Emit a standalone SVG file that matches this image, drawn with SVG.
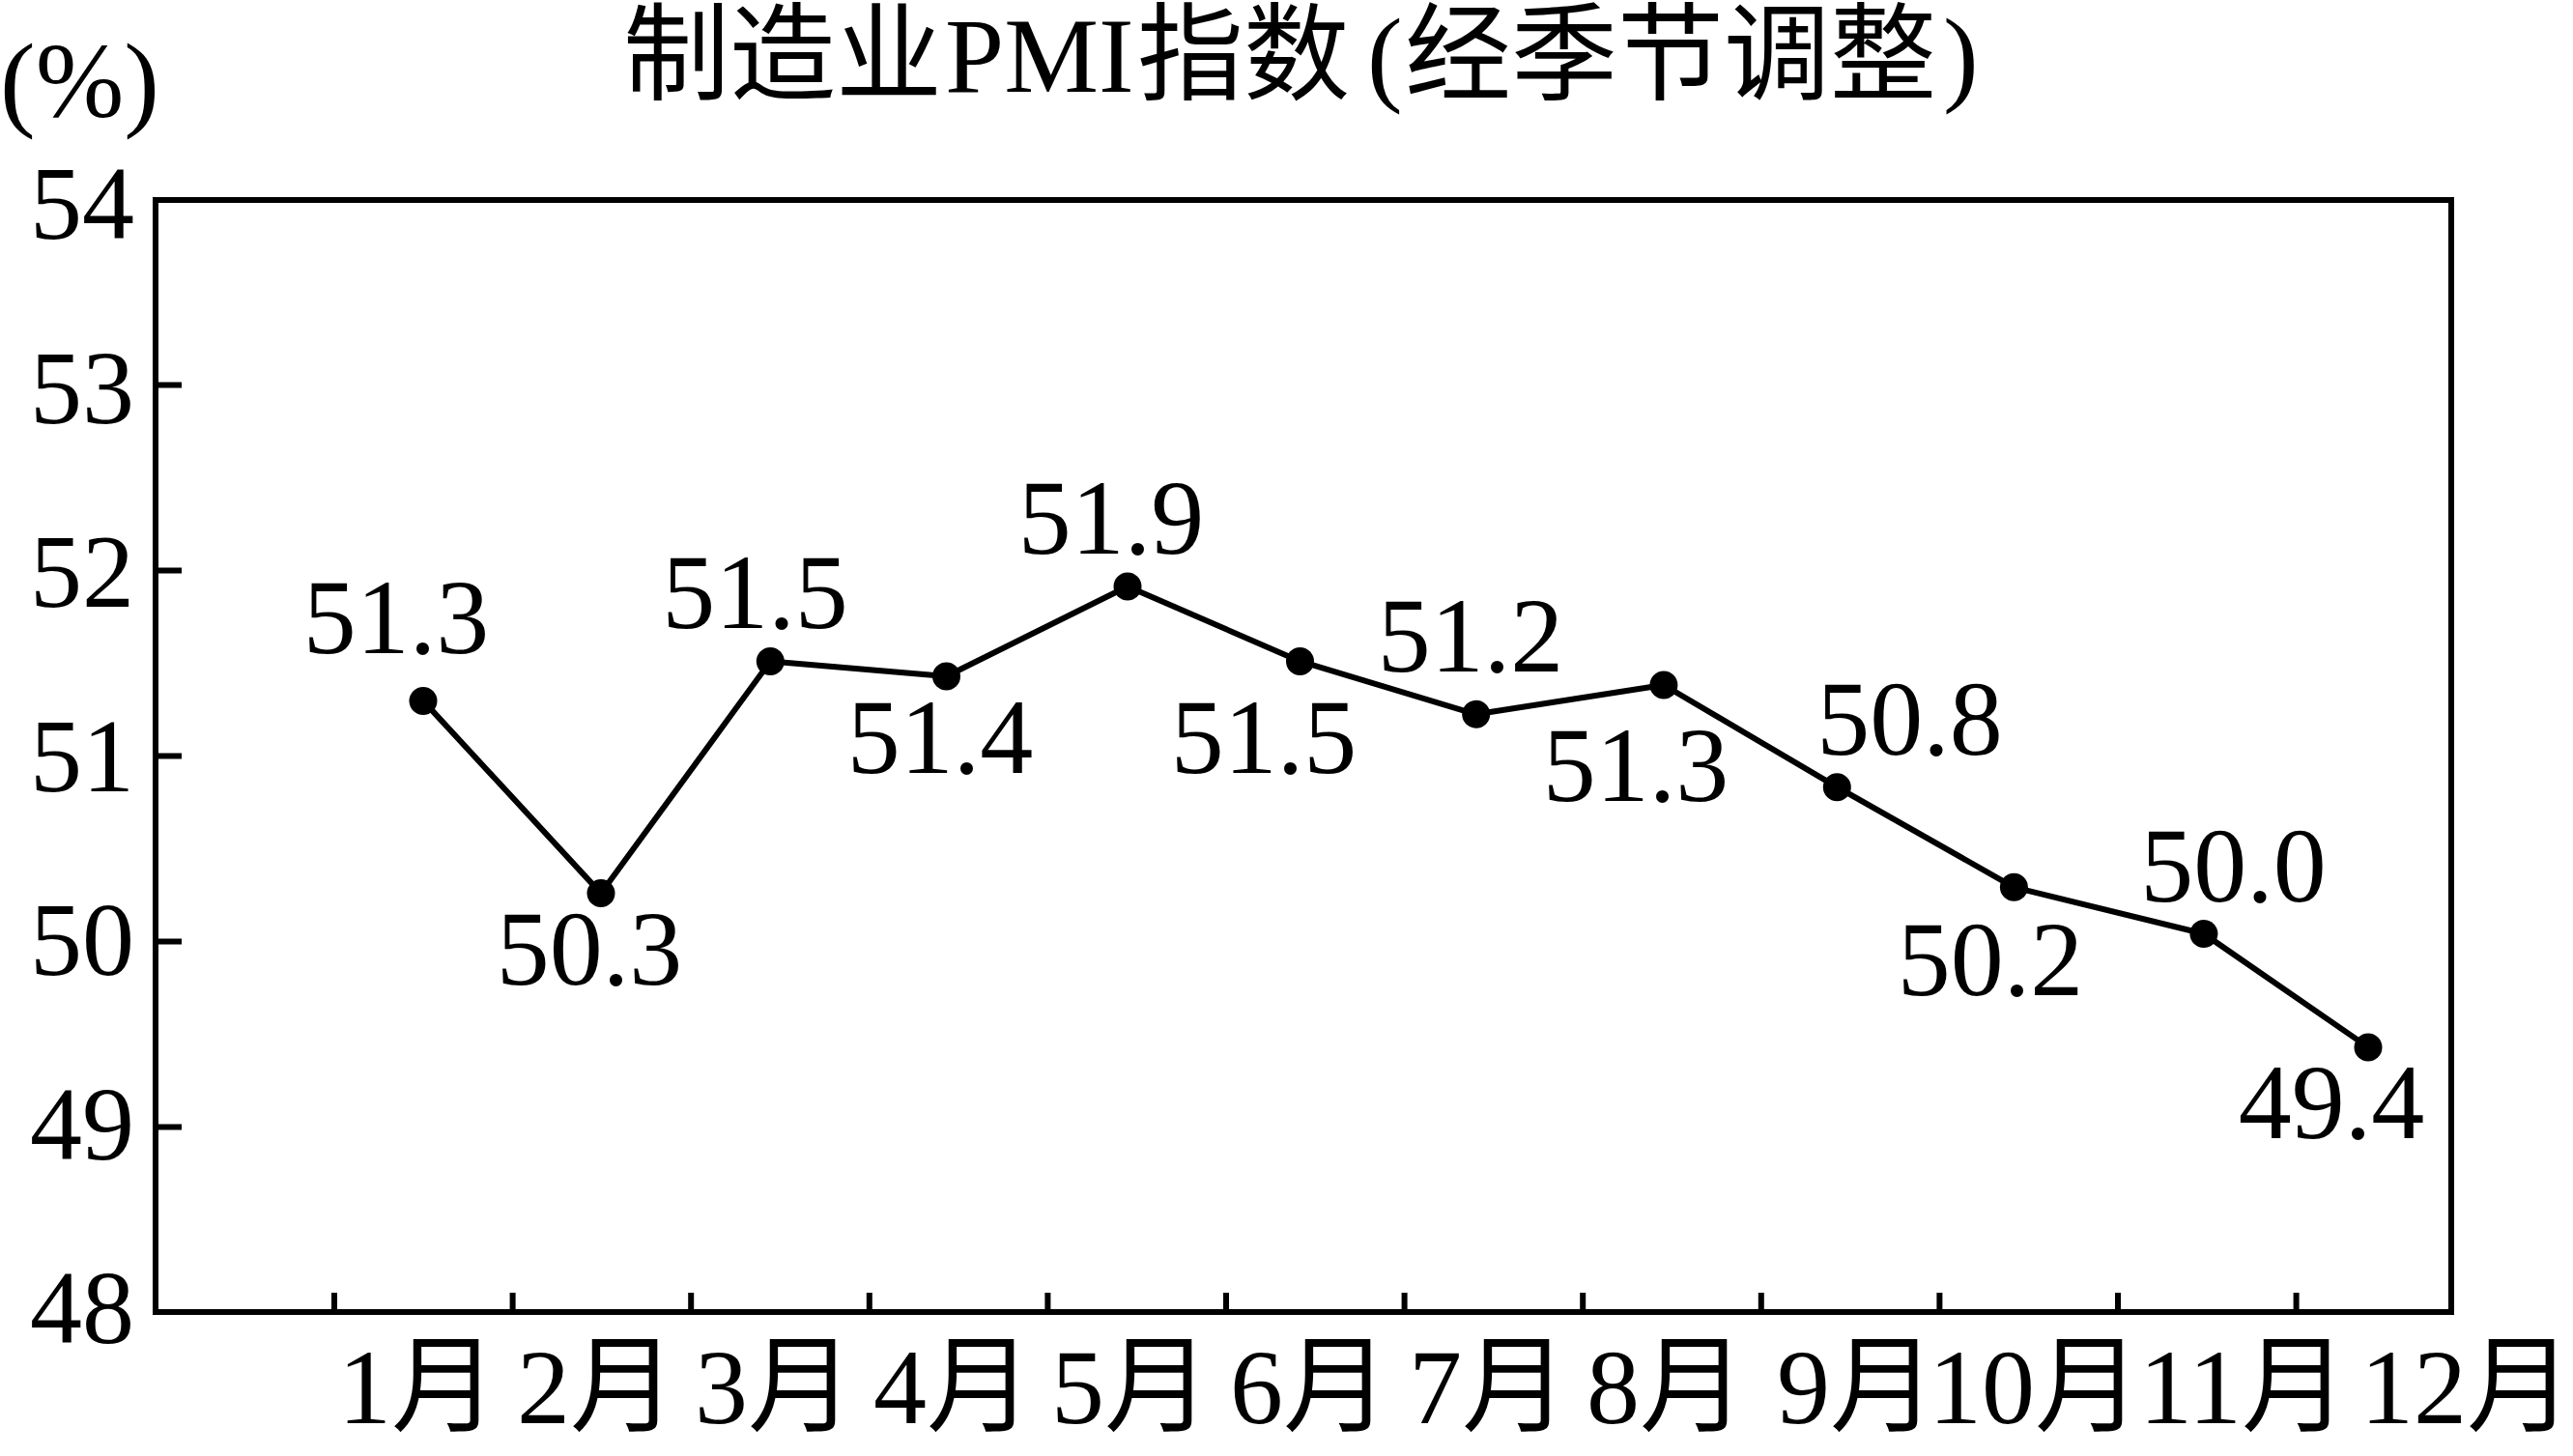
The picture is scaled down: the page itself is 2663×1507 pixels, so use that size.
<svg xmlns="http://www.w3.org/2000/svg" width="2663" height="1507" viewBox="0 0 2663 1507">
<style>
.t{font-family:"Liberation Serif","Noto Sans CJK SC",serif;fill:#000}
.ax{fill:none;stroke:#000;stroke-width:6;stroke-linecap:square}
.tk{stroke:#000;stroke-width:6}
.ln{fill:none;stroke:#000;stroke-width:6;stroke-linejoin:round}
.pt{fill:#000}
.yl{font-size:108px;text-anchor:end}
.dl{font-size:110px;text-anchor:middle}
.ml{font-size:110px}
</style>
<rect width="2663" height="1507" fill="#fff"/>
<g id="title">
<text class="t" x="0" y="121" font-size="110">(%)</text>
<text class="t" y="95" font-size="110"><tspan x="645">制造业</tspan><tspan x="978">PMI</tspan><tspan x="1177">指数</tspan><tspan x="1415">(</tspan><tspan x="1454">经季节调整</tspan><tspan x="2011">)</tspan></text>
</g>
<g id="axes">
<rect class="ax" x="161" y="207" width="2376" height="1151"/>
<path class="tk" d="M161 398.6h27M161 590.6h27M161 782.6h27M161 974.6h27M161 1166.6h27"/>
<path class="tk" d="M346 1358v-20M530.6 1358v-20M715.2 1358v-20M899.8 1358v-20M1084.4 1358v-20M1269 1358v-20M1453.6 1358v-20M1638.2 1358v-20M1822.8 1358v-20M2007.4 1358v-20M2192 1358v-20M2376.6 1358v-20"/>
</g>
<g id="y-labels">
<text class="t yl" x="139" y="247">54</text>
<text class="t yl" x="139" y="437.5">53</text>
<text class="t yl" x="139" y="628">52</text>
<text class="t yl" x="139" y="818.5">51</text>
<text class="t yl" x="139" y="1009">50</text>
<text class="t yl" x="139" y="1199.5">49</text>
<text class="t yl" x="139" y="1390">48</text>
</g>
<g id="x-labels">
<text class="t ml" x="350" y="1473">1月</text>
<text class="t ml" x="535" y="1473">2月</text>
<text class="t ml" x="719" y="1473">3月</text>
<text class="t ml" x="904" y="1473">4月</text>
<text class="t ml" x="1088" y="1473">5月</text>
<text class="t ml" x="1273" y="1473">6月</text>
<text class="t ml" x="1458" y="1473">7月</text>
<text class="t ml" x="1642" y="1473">8月</text>
<text class="t ml" x="1839" y="1473">9月</text>
<text class="t ml" x="1996" y="1473">10月</text>
<text class="t ml" x="2214" y="1473">11月</text>
<text class="t ml" x="2443" y="1473">12月</text>
</g>
<g id="connectors">
<polyline class="ln" points="438,725.4 622,924.6 797.3,684.4 979.5,700 1167,607 1345.5,684.4 1527.7,739.3 1721.9,709 1901.3,814.7 2084.4,918.3 2280.9,966.5 2451,1083.9"/>
</g>
<g id="p1"><circle class="pt" cx="438" cy="725.4" r="14.5"/><text class="t dl" x="410" y="676">51.3</text></g>
<g id="p2"><circle class="pt" cx="622" cy="924.6" r="14.5"/><text class="t dl" x="610" y="1019">50.3</text></g>
<g id="p3"><circle class="pt" cx="797.3" cy="684.4" r="14.5"/><text class="t dl" x="781.5" y="650">51.5</text></g>
<g id="p4"><circle class="pt" cx="979.5" cy="700" r="14.5"/><text class="t dl" x="973" y="800">51.4</text></g>
<g id="p5"><circle class="pt" cx="1167" cy="607" r="14.5"/><text class="t dl" x="1150" y="573">51.9</text></g>
<g id="p6"><circle class="pt" cx="1345.5" cy="684.4" r="14.5"/><text class="t dl" x="1308" y="800">51.5</text></g>
<g id="p7"><circle class="pt" cx="1527.7" cy="739.3" r="14.5"/><text class="t dl" x="1522" y="695">51.2</text></g>
<g id="p8"><circle class="pt" cx="1721.9" cy="709" r="14.5"/><text class="t dl" x="1693" y="829">51.3</text></g>
<g id="p9"><circle class="pt" cx="1901.3" cy="814.7" r="14.5"/><text class="t dl" x="1976.5" y="781">50.8</text></g>
<g id="p10"><circle class="pt" cx="2084.4" cy="918.3" r="14.5"/><text class="t dl" x="2060" y="1030">50.2</text></g>
<g id="p11"><circle class="pt" cx="2280.9" cy="966.5" r="14.5"/><text class="t dl" x="2311.5" y="933">50.0</text></g>
<g id="p12"><circle class="pt" cx="2451" cy="1083.9" r="14.5"/><text class="t dl" x="2413" y="1178">49.4</text></g>
</svg>
